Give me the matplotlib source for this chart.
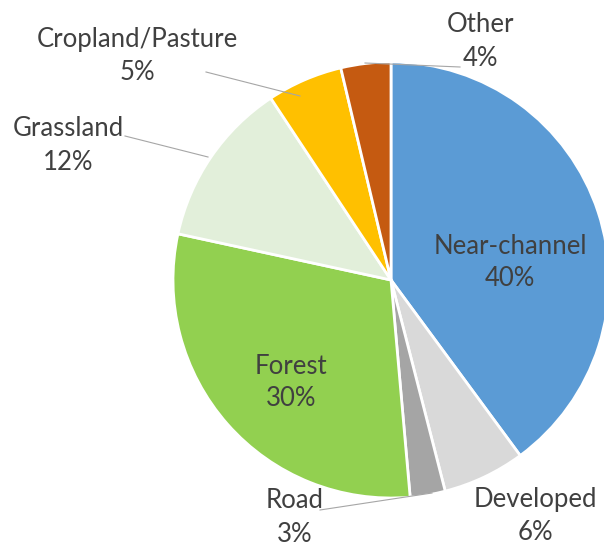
import matplotlib.pyplot as plt

# Data
labels = ['Near-channel', 'Developed', 'Road', 'Forest', 'Grassland', 'Cropland/Pasture', 'Other']
values = [39.9, 6.1, 2.6, 29.8, 12.3, 5.6, 3.7]
pct_text = ['40%', '6%', '3%', '30%', '12%', '5%', '4%']
colors = ['#5B9BD5', '#D9D9D9', '#A5A5A5', '#92D050', '#E2EFDA', '#FFC000', '#C55A11']

W, H = 604, 546
cx, cy, r = 391, H - 280, 218

plt.rcParams['font.family'] = ['Lato', 'DejaVu Sans']

fig = plt.figure(figsize=(W / 100, H / 100), dpi=100)
ax = fig.add_axes([0, 0, 1, 1])
ax.pie(values, colors=colors, startangle=90, counterclock=False,
       center=(cx, cy), radius=r,
       wedgeprops=dict(edgecolor='white', linewidth=2))
ax.set_xlim(0, W)
ax.set_ylim(0, H)
ax.set_aspect('equal')
ax.axis('off')

# label positions in pixel coords (x, y from top)
label_pos = {
    'Near-channel': (510, 246),
    'Developed': (535, 499),
    'Road': (295, 501),
    'Forest': (291, 366),
    'Grassland': (68, 129),
    'Cropland/Pasture': (137, 39),
    'Other': (480, 25),
}
txt_color = '#404040'
for lab, p in zip(labels, pct_text):
    x, y = label_pos[lab]
    ax.text(x, H - y, lab, ha='center', va='center', fontsize=18.5, color=txt_color)
    ax.text(x, H - y - 33, p, ha='center', va='center', fontsize=18.5, color=txt_color)

# leader lines
leaders = [
    [(365, 63), (460, 67)],          # Other
    [(206, 72), (300, 96)],          # Cropland/Pasture
    [(125, 136), (208, 157)],        # Grassland
    [(320, 510), (432, 493)],        # Road
]
for pts in leaders:
    xs = [p[0] for p in pts]
    ys = [H - p[1] for p in pts]
    ax.plot(xs, ys, color='#A6A6A6', linewidth=0.8)

fig.savefig('out.png', dpi=100)
